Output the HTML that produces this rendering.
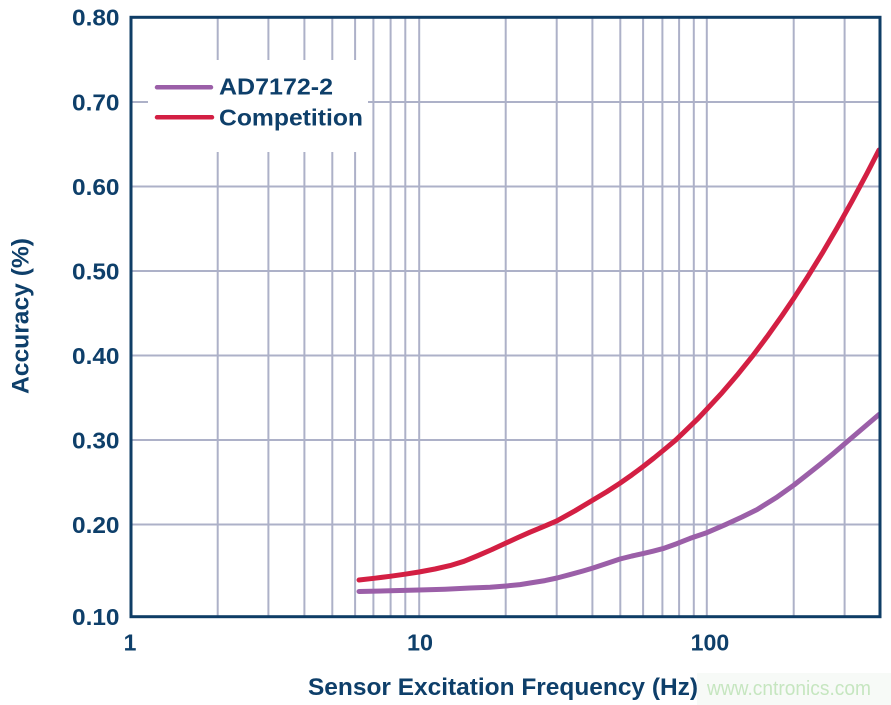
<!DOCTYPE html>
<html>
<head>
<meta charset="utf-8">
<style>
html,body{margin:0;padding:0;background:#ffffff;}
svg{display:block;}
text{font-family:"Liberation Sans",Arial,sans-serif;font-weight:bold;fill:#0e3f6a;}
</style>
</head>
<body>
<svg width="891" height="705" viewBox="0 0 891 705" xmlns="http://www.w3.org/2000/svg">
<rect x="0" y="0" width="891" height="705" fill="#ffffff"/>
<!-- watermark background -->
<rect x="697" y="673" width="194" height="32" fill="#f7faf7"/>

<!-- gridlines -->
<g stroke="#adb1c8" stroke-width="2" fill="none">
  <line x1="217.7" y1="17" x2="217.7" y2="617"/>
  <line x1="268.4" y1="17" x2="268.4" y2="617"/>
  <line x1="304.4" y1="17" x2="304.4" y2="617"/>
  <line x1="332.3" y1="17" x2="332.3" y2="617"/>
  <line x1="355.1" y1="17" x2="355.1" y2="617"/>
  <line x1="373.4" y1="17" x2="373.4" y2="617"/>
  <line x1="390.6" y1="17" x2="390.6" y2="617"/>
  <line x1="405.3" y1="17" x2="405.3" y2="617"/>
  <line x1="419.2" y1="17" x2="419.2" y2="617"/>
  <line x1="505.7" y1="17" x2="505.7" y2="617"/>
  <line x1="556.7" y1="17" x2="556.7" y2="617"/>
  <line x1="592.4" y1="17" x2="592.4" y2="617"/>
  <line x1="620.3" y1="17" x2="620.3" y2="617"/>
  <line x1="643.1" y1="17" x2="643.1" y2="617"/>
  <line x1="662.4" y1="17" x2="662.4" y2="617"/>
  <line x1="679.1" y1="17" x2="679.1" y2="617"/>
  <line x1="693.8" y1="17" x2="693.8" y2="617"/>
  <line x1="706.8" y1="17" x2="706.8" y2="617"/>
  <line x1="793.7" y1="17" x2="793.7" y2="617"/>
  <line x1="844.6" y1="17" x2="844.6" y2="617"/>

  <line x1="131" y1="102" x2="880" y2="102"/>
  <line x1="131" y1="186.5" x2="880" y2="186.5"/>
  <line x1="131" y1="271" x2="880" y2="271"/>
  <line x1="131" y1="355.5" x2="880" y2="355.5"/>
  <line x1="131" y1="440" x2="880" y2="440"/>
  <line x1="131" y1="524.5" x2="880" y2="524.5"/>
</g>

<!-- legend box -->
<rect x="148" y="60" width="220" height="92" fill="#ffffff"/>
<line x1="157" y1="87.3" x2="211" y2="87.3" stroke="#9b5fa8" stroke-width="4.5" stroke-linecap="round"/>
<line x1="157" y1="117.3" x2="212" y2="117.3" stroke="#d31f43" stroke-width="4.5" stroke-linecap="round"/>
<text x="219" y="94.5" font-size="23" textLength="114" lengthAdjust="spacingAndGlyphs">AD7172-2</text>
<text x="219" y="125.5" font-size="23" textLength="144" lengthAdjust="spacingAndGlyphs">Competition</text>

<!-- curves -->
<polyline fill="none" stroke="#9b5fa8" stroke-width="5" stroke-linecap="round" stroke-linejoin="round"
 points="359,591.5 390,590.8 419,590 445,589.2 470,588 490,587.2 506,586 520,584.6 530,583 545,580.6 557,578 570,574.6 583,571 593,568 607,563.4 620,559 632,556 643,553.6 653,551.2 663,548.6 677,543.6 690,538.4 707,532.6 725,524.8 742,517 757,509.6 776,497.8 794,485 808,474 820,464.5 833,453.8 845,443.5 862,429 879,414.5"/>
<polyline fill="none" stroke="#d31f43" stroke-width="5" stroke-linecap="round" stroke-linejoin="round"
 points="359,580 375,578.2 390,576.3 405,574.2 419,572 435,569 450,565.6 464,561.3 477,556 492,549.5 506,543 518,537.5 530,532.2 543,526.8 557,520.8 575,510.8 593,500 607,491.6 620,483.2 632,474.8 643,466.6 654,458 665,449 676,439.8 686,430.2 697,419.6 707,409 722,392.8 737,375.3 752,356.7 767,336.8 782,315.7 794,298 807,277.9 822,253.6 837,228 852,201.2 867,173.3 879,150"/>

<!-- frame -->
<rect x="131" y="17.3" width="749" height="599.4" fill="none" stroke="#0f3d66" stroke-width="3"/>

<!-- y tick labels -->
<g font-size="23" text-anchor="end">
  <text x="119.5" y="25.6" textLength="47.5" lengthAdjust="spacingAndGlyphs">0.80</text>
  <text x="119.5" y="110.3" textLength="47.5" lengthAdjust="spacingAndGlyphs">0.70</text>
  <text x="119.5" y="194.8" textLength="47.5" lengthAdjust="spacingAndGlyphs">0.60</text>
  <text x="119.5" y="279.3" textLength="47.5" lengthAdjust="spacingAndGlyphs">0.50</text>
  <text x="119.5" y="363.8" textLength="47.5" lengthAdjust="spacingAndGlyphs">0.40</text>
  <text x="119.5" y="448.3" textLength="47.5" lengthAdjust="spacingAndGlyphs">0.30</text>
  <text x="119.5" y="532.8" textLength="47.5" lengthAdjust="spacingAndGlyphs">0.20</text>
  <text x="119.5" y="625" textLength="47.5" lengthAdjust="spacingAndGlyphs">0.10</text>
</g>

<!-- x tick labels -->
<g font-size="23" text-anchor="middle">
  <text x="130" y="650.5">1</text>
  <text x="420" y="650.5" textLength="26" lengthAdjust="spacingAndGlyphs">10</text>
  <text x="710" y="650.5" textLength="38.6" lengthAdjust="spacingAndGlyphs">100</text>
</g>

<!-- axis titles -->
<text x="308" y="695" font-size="24" textLength="390" lengthAdjust="spacingAndGlyphs">Sensor Excitation Frequency (Hz)</text>
<text transform="translate(28.3,394) rotate(-90)" x="0" y="0" font-size="24.5" textLength="156" lengthAdjust="spacingAndGlyphs">Accuracy (%)</text>

<!-- watermark -->
<text x="707" y="695" font-size="20" textLength="164" lengthAdjust="spacingAndGlyphs" style="font-weight:normal;fill:#c6e6c0;">www.cntronics.com</text>
</svg>
</body>
</html>
